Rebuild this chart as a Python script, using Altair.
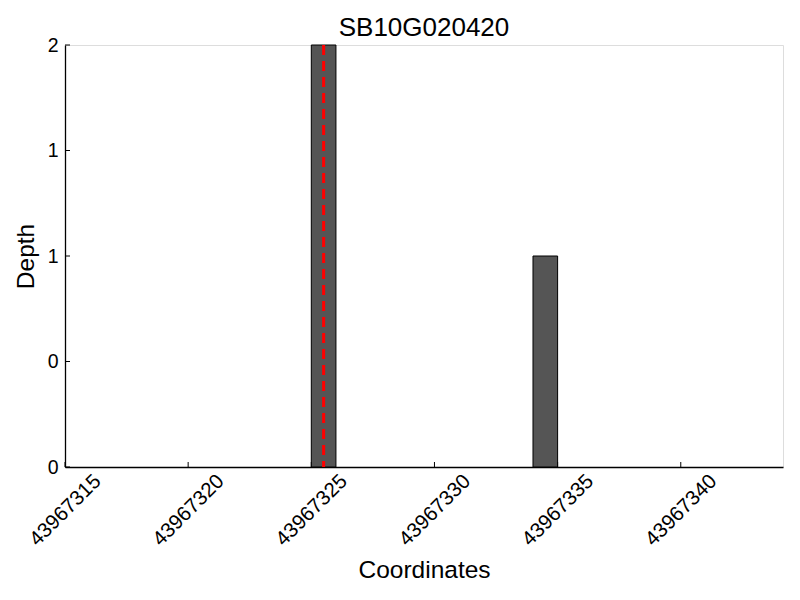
import altair as alt
import pandas as pd

# Data
bar_start = [43967325, 43967334]
bar_end = [43967326, 43967335]
depth = [2, 1]
marker_pos = [43967325.5]
x_ticks = [43967315, 43967320, 43967325, 43967330, 43967335, 43967340]
y_ticks = [0, 0.5, 1, 1.5, 2]
title_text = "SB10G020420"

W, H = 718, 422
FONT = "Liberation Sans"

bars_df = pd.DataFrame({"start": bar_start, "end": bar_end, "depth": depth})
marker_df = pd.DataFrame({"pos": marker_pos})
xt_df = pd.DataFrame({"t": x_ticks})
yt_df = pd.DataFrame({"t": y_ticks})

xscale = alt.Scale(domain=[43967315, 43967344.15], nice=False, zero=False)
yscale = alt.Scale(domain=[0, 2], nice=False)

xaxis = alt.Axis(
    title="Coordinates", values=x_ticks, format="d", ticks=False, tickSize=0,
    labelAngle=315, labelAlign="center", labelBaseline="middle", labelPadding=43,
    labelFlush=False, labelOverlap=False, labelFontSize=20.5, labelFont=FONT,
    labelColor="black", grid=False, domainColor="black", domainWidth=1.3,
    titleFontSize=24.5, titleFont=FONT, titleFontWeight="normal", titleColor="black",
    titleBaseline="alphabetic", titleX=W / 2, titleY=110,
)
yaxis = alt.Axis(
    title="Depth", values=y_ticks, labelExpr="floor(datum.value)", ticks=False,
    tickSize=0, labelPadding=7, labelFontSize=19.5, labelFont=FONT, labelColor="black",
    grid=False, domainColor="black", domainWidth=1.3, labelFlush=False,
    titleFontSize=24.5, titleFont=FONT, titleFontWeight="normal", titleColor="black",
    titleAngle=270, titleBaseline="alphabetic", titleAlign="center", titleX=-32, titleY=H / 2,
)

bars = alt.Chart(bars_df).mark_rect(color="#555555", stroke="black", strokeWidth=1).encode(
    x=alt.X("start:Q", scale=xscale, axis=xaxis),
    x2="end:Q",
    y=alt.Y("depth:Q", scale=yscale, axis=yaxis),
    y2=alt.datum(0),
)

marker = alt.Chart(marker_df).mark_rule(color="red", strokeWidth=3, strokeDash=[10, 6]).encode(
    x=alt.X("pos:Q", scale=xscale),
    y=alt.value(0),
    y2=alt.value(H),
)

xtick_marks = alt.Chart(xt_df).mark_rule(color="black", strokeWidth=1).encode(
    x=alt.X("t:Q", scale=xscale),
    y=alt.value(H),
    y2=alt.value(H - 5),
)
ytick_marks = alt.Chart(yt_df).mark_rule(color="black", strokeWidth=1).encode(
    y=alt.Y("t:Q", scale=yscale),
    x=alt.value(0),
    x2=alt.value(5),
)

chart = alt.layer(xtick_marks, ytick_marks, bars, marker).properties(
    width=W, height=H,
    title=alt.TitleParams(title_text, fontSize=26, font=FONT, fontWeight="normal",
                          color="black", anchor="middle", frame="group", offset=0, dy=6),
    autosize=alt.AutoSizeParams(type="none"),
    padding={"left": 57, "top": 37, "right": 9, "bottom": 120},
).configure_view(stroke=None).configure(background="white")

chart.save("out.html", embed_options={"renderer": "svg", "actions": False})
